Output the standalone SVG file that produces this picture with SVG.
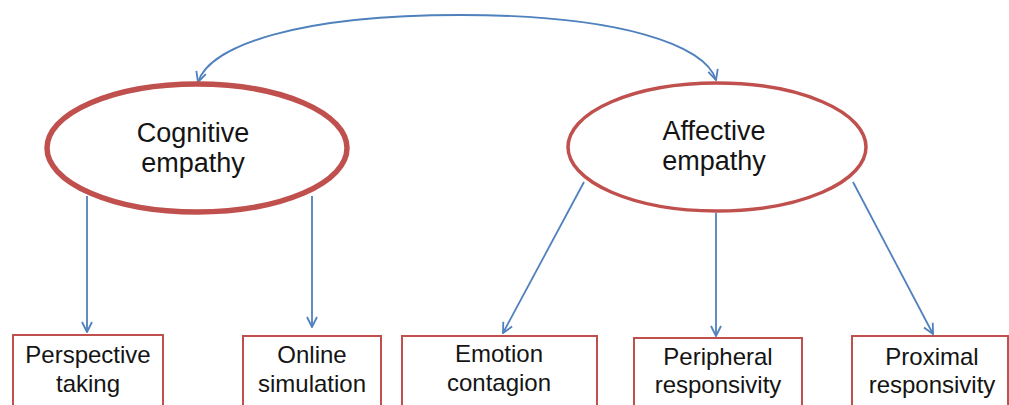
<svg xmlns="http://www.w3.org/2000/svg" width="1009" height="405" viewBox="0 0 1009 405">
<style>
.t{font-family:"Liberation Sans",Arial,sans-serif;fill:#141414;text-anchor:middle}
.big{font-size:27px}
.sm{font-size:24px}
.box{fill:#fff;stroke:#c0504d;stroke-width:2}
.c{fill:none;stroke:#4f81bd;stroke-width:1.8}
</style>
<defs>
<marker id="ah" viewBox="0 0 12 12" refX="11" refY="6" markerWidth="12" markerHeight="12" markerUnits="userSpaceOnUse" orient="auto">
<path d="M1,1 L11,6 L1,11" fill="none" stroke="#4f81bd" stroke-width="1.8"/>
</marker>
</defs>
<rect width="1009" height="405" fill="#fff"/>
<g id="connectors">
<path class="c" d="M460,15 C300,15 210,45 198,82" marker-end="url(#ah)"/>
<path class="c" d="M460,15 C620,15 705,45 716,80" marker-end="url(#ah)"/>
<line class="c" x1="87" y1="196" x2="87" y2="332" marker-end="url(#ah)"/>
<line class="c" x1="312" y1="196" x2="312" y2="327" marker-end="url(#ah)"/>
<line class="c" x1="584" y1="182" x2="503" y2="333" marker-end="url(#ah)"/>
<line class="c" x1="716" y1="213" x2="716" y2="336" marker-end="url(#ah)"/>
<line class="c" x1="853" y1="182" x2="933" y2="334" marker-end="url(#ah)"/>
</g>
<g id="cognitive">
<ellipse cx="197" cy="148" rx="150" ry="64" fill="#fff" stroke="#c0504d" stroke-width="5.5"/>
<text class="t big" x="193" y="142">Cognitive</text>
<text class="t big" x="193" y="172">empathy</text>
</g>
<g id="affective">
<ellipse cx="717" cy="147" rx="149" ry="64" fill="#fff" stroke="#c0504d" stroke-width="3.5"/>
<text class="t big" x="714" y="140">Affective</text>
<text class="t big" x="714" y="170">empathy</text>
</g>
<g id="perspective">
<rect class="box" x="13" y="335" width="150" height="80"/>
<text class="t sm" x="88" y="363">Perspective</text>
<text class="t sm" x="88" y="392">taking</text>
</g>
<g id="online">
<rect class="box" x="243" y="336" width="138" height="80"/>
<text class="t sm" x="312" y="363">Online</text>
<text class="t sm" x="312" y="392">simulation</text>
</g>
<g id="emotion">
<rect class="box" x="402" y="336" width="195" height="80"/>
<text class="t sm" x="499" y="362">Emotion</text>
<text class="t sm" x="499" y="391">contagion</text>
</g>
<g id="peripheral">
<rect class="box" x="634" y="338" width="168" height="80"/>
<text class="t sm" x="718" y="365">Peripheral</text>
<text class="t sm" x="718" y="393">responsivity</text>
</g>
<g id="proximal">
<rect class="box" x="852" y="336" width="156" height="80"/>
<text class="t sm" x="932" y="365">Proximal</text>
<text class="t sm" x="932" y="393">responsivity</text>
</g>
</svg>
